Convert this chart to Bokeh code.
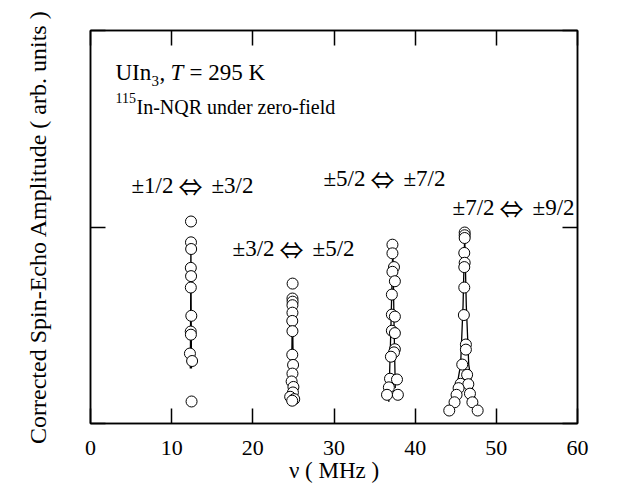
from bokeh.plotting import figure
from bokeh.models import LinearAxis, Range1d, FixedTicker, CustomJSTickFormatter
from bokeh.embed import file_html
from bokeh.resources import INLINE
from bokeh.core.properties import value

FONT = "Liberation Serif"
ARROW_FONT = "Noto Sans CJK JP"

# ---- data (frequency in MHz, amplitude in arb. units 0..1) ----
p1_x = [12.38, 12.38, 12.40, 12.36, 12.39, 12.36, 12.42, 12.35, 12.37, 12.25, 12.52, 12.45]
p1_y = [0.514, 0.461, 0.444, 0.396, 0.375, 0.346, 0.274, 0.234, 0.226, 0.178, 0.159, 0.056]
f1_x = [12.30, 12.34, 12.37, 12.40, 12.44]
f1_y = [0.14, 0.30, 0.47, 0.30, 0.14]

p2_x = [24.90, 24.88, 24.90, 24.88, 24.88, 24.86, 24.88, 24.86, 24.96, 24.88, 24.78, 25.00, 24.94, 24.60, 25.10, 24.85]
p2_y = [0.356, 0.318, 0.310, 0.301, 0.282, 0.261, 0.235, 0.175, 0.149, 0.127, 0.107, 0.093, 0.079, 0.068, 0.062, 0.058]
f2_x = [24.70, 24.82, 24.88, 24.94, 25.05]
f2_y = [0.07, 0.20, 0.33, 0.20, 0.07]

p3_x = [37.20, 37.20, 37.39, 37.20, 37.50, 37.13, 37.13, 37.50, 37.13, 37.50, 37.50, 37.39, 37.01, 36.90, 37.76, 36.76, 36.53, 37.87]
p3_y = [0.455, 0.433, 0.398, 0.386, 0.362, 0.328, 0.277, 0.272, 0.236, 0.230, 0.189, 0.181, 0.170, 0.114, 0.112, 0.092, 0.073, 0.073]
f3_x = [36.75, 37.02, 37.25, 37.40, 37.55]
f3_y = [0.055, 0.25, 0.45, 0.25, 0.09]

p4_x = [46.10, 46.10, 46.10, 46.05, 46.10, 46.05, 46.05, 46.00, 46.25, 46.25, 45.80, 46.40, 45.60, 46.55, 45.35, 45.10, 46.75, 44.85, 47.05, 44.20, 47.70]
p4_y = [0.486, 0.479, 0.472, 0.434, 0.409, 0.398, 0.346, 0.276, 0.201, 0.188, 0.150, 0.124, 0.101, 0.100, 0.090, 0.073, 0.076, 0.054, 0.054, 0.033, 0.033]
f4_x = [44.40, 45.10, 45.60, 45.90, 46.10, 46.30, 46.60, 47.05, 47.55]
f4_y = [0.05, 0.09, 0.15, 0.30, 0.48, 0.30, 0.15, 0.09, 0.05]

x_ticks = [0, 10, 20, 30, 40, 50, 60]
y_ticks = [0, 0.5, 1]

trans_left = ["\u00b11/2", "\u00b13/2", "\u00b15/2", "\u00b17/2"]
trans_right = ["\u00b13/2", "\u00b15/2", "\u00b17/2", "\u00b19/2"]
trans_arrow = ["\u21d4"] * 4
trans_x = [5.05, 17.5, 28.7, 44.6]
trans_y = [0.606, 0.445, 0.623, 0.550]

y_label = "Corrected Spin-Echo Amplitude ( arb. units )"
x_label = "\u03bd ( MHz )"

W, H = 635, 492
p = figure(width=W, height=H, output_backend="svg", toolbar_location=None,
           x_range=Range1d(0, 60), y_range=Range1d(0, 1),
           min_border_left=90, min_border_right=58, min_border_top=30, min_border_bottom=69,
           x_axis_label=x_label, y_axis_label=y_label)
p.grid.visible = False
p.outline_line_color = "black"
p.outline_line_width = 1.5
p.background_fill_color = "white"
p.border_fill_color = "white"

blank = CustomJSTickFormatter(code="return ''")

def style_axis(ax, ticks, labels=True):
    ax.ticker = FixedTicker(ticks=ticks)
    ax.major_tick_in = 15
    ax.major_tick_out = 0
    ax.minor_tick_in = 0
    ax.minor_tick_out = 0
    ax.axis_line_color = "black"
    ax.axis_line_width = 1.5
    ax.major_tick_line_color = "black"
    ax.major_tick_line_width = 1.5
    ax.major_label_text_font = FONT
    ax.major_label_text_font_size = "22px"
    ax.major_label_text_color = "black"
    ax.axis_label_text_font = FONT
    ax.axis_label_text_font_size = "23px"
    ax.axis_label_text_font_style = "normal"
    ax.axis_label_text_color = "black"
    if not labels:
        ax.formatter = blank

style_axis(p.xaxis[0], x_ticks)
p.xaxis[0].major_label_standoff = 17
p.xaxis[0].axis_label_standoff = 0
style_axis(p.yaxis[0], y_ticks, labels=False)
p.yaxis[0].major_label_standoff = 0
p.yaxis[0].axis_label_text_font_size = "24px"
p.yaxis[0].axis_label_standoff = 40

top = LinearAxis()
style_axis(top, x_ticks, labels=False)
top.major_label_standoff = 0
p.add_layout(top, "above")
right = LinearAxis()
style_axis(right, y_ticks, labels=False)
right.major_label_standoff = 0
p.add_layout(right, "right")

# fit lines
for fx, fy in [(f1_x, f1_y), (f2_x, f2_y), (f3_x, f3_y), (f4_x, f4_y)]:
    p.line(fx, fy, line_color="black", line_width=1.3)

# data points
for px_, py_ in [(p1_x, p1_y), (p2_x, p2_y), (p3_x, p3_y), (p4_x, p4_y)]:
    p.scatter(px_, py_, marker="circle", size=11, fill_color="white",
              line_color="black", line_width=1)

# transition labels
common = dict(text_baseline="middle", text_align="left", text_color="black")
p.text(x=trans_x, y=trans_y, text=trans_left, text_font=value(FONT), text_font_size="23px", **common)
p.text(x=trans_x, y=trans_y, text=trans_arrow, x_offset=47, text_font=value(ARROW_FONT),
       text_font_size="24px", **common)
p.text(x=trans_x, y=trans_y, text=trans_right, x_offset=80, text_font=value(FONT),
       text_font_size="23px", **common)

# header annotation line 1: UIn3, T = 295 K
hx, hy = 3.08, 0.893
p.text(x=[hx], y=[hy], text=["UIn"], text_font=value(FONT), text_font_size="23px", **common)
p.text(x=[hx], y=[hy], text=["3"], x_offset=36, y_offset=8, text_font=value(FONT),
       text_font_size="15px", **common)
p.text(x=[hx], y=[hy], text=[","], x_offset=44, text_font=value(FONT), text_font_size="23px", **common)
p.text(x=[hx], y=[hy], text=["T"], x_offset=55, text_font=value(FONT), text_font_size="23px",
       text_font_style="italic", **common)
p.text(x=[hx], y=[hy], text=["= 295 K"], x_offset=74, text_font=value(FONT), text_font_size="23px", **common)

# header annotation line 2: 115In-NQR under zero-field
h2y = 0.805
p.text(x=[hx], y=[h2y], text=["115"], y_offset=-9, text_font=value(FONT), text_font_size="14px", **common)
p.text(x=[hx], y=[h2y], text=["In-NQR under zero-field"], x_offset=21, text_font=value(FONT),
       text_font_size="20px", **common)

open("out.html", "w").write(file_html(p, INLINE))
